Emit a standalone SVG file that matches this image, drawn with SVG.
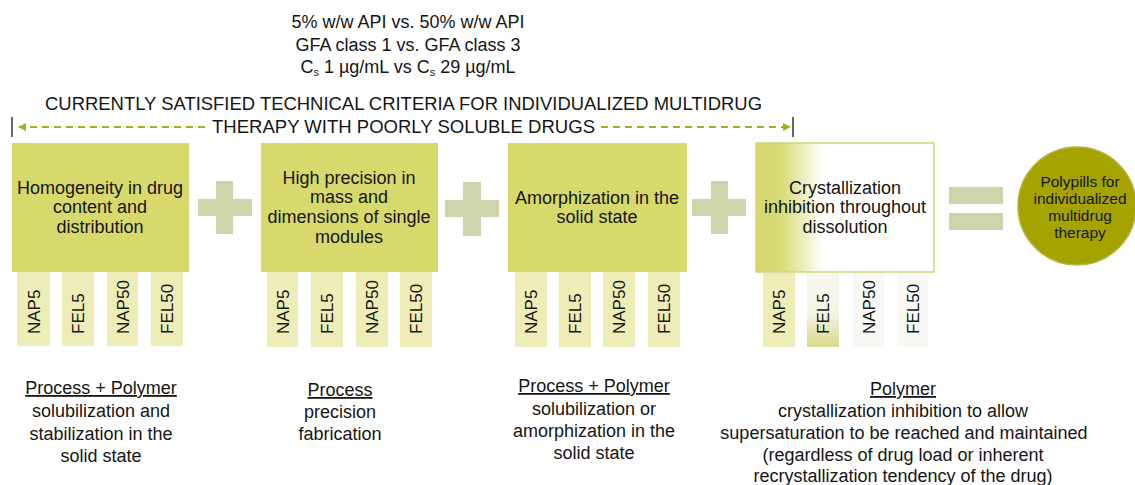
<svg xmlns="http://www.w3.org/2000/svg" width="1135" height="485" viewBox="0 0 1135 485">
<defs>
<style>
text{font-family:"Liberation Sans",Arial,sans-serif;fill:#151515;}
.box{fill:#D8D96D;}
.col{fill:#EEEDB7;}
.op{fill:#D0D4AD;}
.bt{font-size:18px;text-anchor:middle;}
.ct{font-size:17px;}
.bot{font-size:18px;text-anchor:middle;}
.hd{font-size:17.5px;}
.dash{stroke:#A9AD1C;stroke-width:2;stroke-dasharray:7 5;fill:none;}
.tick{stroke:#333;stroke-width:1.5;}
</style>
<marker id="ah" viewBox="0 0 10 10" refX="9" refY="5" markerWidth="4" markerHeight="4" orient="auto-start-reverse" markerUnits="strokeWidth">
<path d="M0,0 L10,5 L0,10 z" fill="#A9AD1C"/>
</marker>
<linearGradient id="g4" x1="0" y1="0" x2="1" y2="0">
<stop offset="0" stop-color="#D6D76A"/>
<stop offset="0.14" stop-color="#D9DA78"/>
<stop offset="0.38" stop-color="#FFFFFF"/>
<stop offset="1" stop-color="#FFFFFF"/>
</linearGradient>
<linearGradient id="gf5" x1="0" y1="0" x2="0" y2="1">
<stop offset="0" stop-color="#F7F7F0"/>
<stop offset="0.55" stop-color="#F4F4E4"/>
<stop offset="1" stop-color="#D8D98A"/>
</linearGradient>
</defs>
<rect width="1135" height="485" fill="#FFFFFF"/>

<g id="header">
<text x="408" y="28" style="font-size:18px;text-anchor:middle">5% w/w API vs. 50% w/w API</text>
<text x="408" y="51" style="font-size:18px;text-anchor:middle">GFA class 1 vs. GFA class 3</text>
<text x="408" y="73" style="font-size:18px;text-anchor:middle">C<tspan font-size="11" dy="3">s</tspan><tspan dy="-3"> 1 µg/mL vs C</tspan><tspan font-size="11" dy="3">s</tspan><tspan dy="-3"> 29 µg/mL</tspan></text>
<text class="hd" x="45" y="110" textLength="717" lengthAdjust="spacingAndGlyphs">CURRENTLY SATISFIED TECHNICAL CRITERIA FOR INDIVIDUALIZED  MULTIDRUG</text>
<text class="hd" x="212" y="133" textLength="383" lengthAdjust="spacingAndGlyphs">THERAPY WITH POORLY SOLUBLE DRUGS</text>
</g>

<g id="connectors">
<line class="tick" x1="12" y1="117" x2="12" y2="137"/>
<line class="tick" x1="793" y1="117" x2="793" y2="137"/>
<line class="dash" x1="205" y1="127" x2="19" y2="127" marker-end="url(#ah)"/>
<line class="dash" x1="601" y1="127" x2="790" y2="127" marker-end="url(#ah)"/>
</g>

<g id="node-homogeneity">
<rect class="box" x="12" y="143" width="177" height="129"/>
<text class="bt" x="100" y="194">Homogeneity in drug</text>
<text class="bt" x="100" y="213">content and</text>
<text class="bt" x="100" y="233">distribution</text>
<rect class="col" x="17" y="272" width="33" height="74"/>
<rect class="col" x="62" y="272" width="32" height="74"/>
<rect class="col" x="107" y="272" width="31" height="74"/>
<rect class="col" x="151" y="272" width="32" height="74"/>
<text class="ct" transform="translate(40,334) rotate(-90)">NAP5</text>
<text class="ct" transform="translate(84,334) rotate(-90)">FEL5</text>
<text class="ct" transform="translate(128.5,334) rotate(-90)">NAP50</text>
<text class="ct" transform="translate(173,334) rotate(-90)">FEL50</text>
</g>

<g id="plus-1"><rect class="op" x="216" y="181" width="17" height="53"/><rect class="op" x="198" y="199" width="54" height="17"/></g>

<g id="node-precision">
<rect class="box" x="261" y="143" width="177" height="129"/>
<text class="bt" x="349" y="184">High precision in</text>
<text class="bt" x="349" y="203">mass and</text>
<text class="bt" x="349" y="223">dimensions of single</text>
<text class="bt" x="349" y="243">modules</text>
<rect class="col" x="267" y="272" width="31" height="75"/>
<rect class="col" x="311" y="272" width="32" height="75"/>
<rect class="col" x="356" y="272" width="32" height="75"/>
<rect class="col" x="400" y="272" width="32" height="75"/>
<text class="ct" transform="translate(288.5,334) rotate(-90)">NAP5</text>
<text class="ct" transform="translate(333,334) rotate(-90)">FEL5</text>
<text class="ct" transform="translate(378,334) rotate(-90)">NAP50</text>
<text class="ct" transform="translate(422,334) rotate(-90)">FEL50</text>
</g>

<g id="plus-2"><rect class="op" x="463" y="182" width="18" height="54"/><rect class="op" x="445" y="200" width="54" height="17"/></g>

<g id="node-amorphization">
<rect class="box" x="508" y="143" width="179" height="129"/>
<text class="bt" x="597" y="204">Amorphization in the</text>
<text class="bt" x="597" y="223">solid state</text>
<rect class="col" x="515" y="272" width="32" height="75"/>
<rect class="col" x="559" y="272" width="32" height="75"/>
<rect class="col" x="603" y="272" width="32" height="75"/>
<rect class="col" x="648" y="272" width="32" height="75"/>
<text class="ct" transform="translate(537,334) rotate(-90)">NAP5</text>
<text class="ct" transform="translate(581,334) rotate(-90)">FEL5</text>
<text class="ct" transform="translate(625,334) rotate(-90)">NAP50</text>
<text class="ct" transform="translate(670,334) rotate(-90)">FEL50</text>
</g>

<g id="plus-3"><rect class="op" x="711" y="181" width="17" height="53"/><rect class="op" x="692" y="199" width="54" height="17"/></g>

<g id="node-crystallization">
<rect x="756" y="143" width="178" height="129" fill="url(#g4)" stroke="#D3D37C" stroke-width="1.5"/>
<text class="bt" x="845" y="194">Crystallization</text>
<text class="bt" x="845" y="213">inhibition throughout</text>
<text class="bt" x="845" y="233">dissolution</text>
<rect class="col" x="763" y="273" width="32" height="74"/>
<rect x="807" y="273" width="32" height="74" fill="url(#gf5)"/>
<rect x="853" y="273" width="31" height="74" fill="#F8F8F4"/>
<rect x="897" y="273" width="31" height="74" fill="#F8F8F4"/>
<text class="ct" transform="translate(785,334) rotate(-90)">NAP5</text>
<text class="ct" transform="translate(829,334) rotate(-90)">FEL5</text>
<text class="ct" transform="translate(874.5,334) rotate(-90)">NAP50</text>
<text class="ct" transform="translate(918.5,334) rotate(-90)">FEL50</text>
</g>

<g id="equals"><rect class="op" x="949" y="187" width="54" height="17"/><rect class="op" x="949" y="213" width="54" height="17"/></g>

<g id="node-polypills">
<circle cx="1077" cy="206" r="59" fill="#A5A300" stroke="#B5B440" stroke-width="1.5"/>
<text x="1080" y="187" style="font-size:15.5px;text-anchor:middle">Polypills for</text>
<text x="1080" y="204" style="font-size:15.5px;text-anchor:middle">individualized</text>
<text x="1080" y="221" style="font-size:15.5px;text-anchor:middle">multidrug</text>
<text x="1080" y="238" style="font-size:15.5px;text-anchor:middle">therapy</text>
</g>

<g id="note-1">
<text class="bot" x="101" y="394" text-decoration="underline">Process + Polymer</text>
<text class="bot" x="101" y="417">solubilization and</text>
<text class="bot" x="101" y="440">stabilization in the</text>
<text class="bot" x="101" y="462">solid state</text>
</g>
<g id="note-2">
<text class="bot" x="340" y="396" text-decoration="underline">Process</text>
<text class="bot" x="340" y="418">precision</text>
<text class="bot" x="340" y="440">fabrication</text>
</g>
<g id="note-3">
<text class="bot" x="594" y="392" text-decoration="underline">Process + Polymer</text>
<text class="bot" x="594" y="415">solubilization or</text>
<text class="bot" x="594" y="437">amorphization in the</text>
<text class="bot" x="594" y="459">solid state</text>
</g>
<g id="note-4">
<text class="bot" x="903" y="395" text-decoration="underline">Polymer</text>
<text class="bot" x="903" y="417">crystallization inhibition to allow</text>
<text class="bot" x="904" y="439">supersaturation to be reached and maintained</text>
<text class="bot" x="903" y="461">(regardless of drug load or inherent</text>
<text class="bot" x="903" y="482">recrystallization tendency of the drug)</text>
</g>
</svg>
